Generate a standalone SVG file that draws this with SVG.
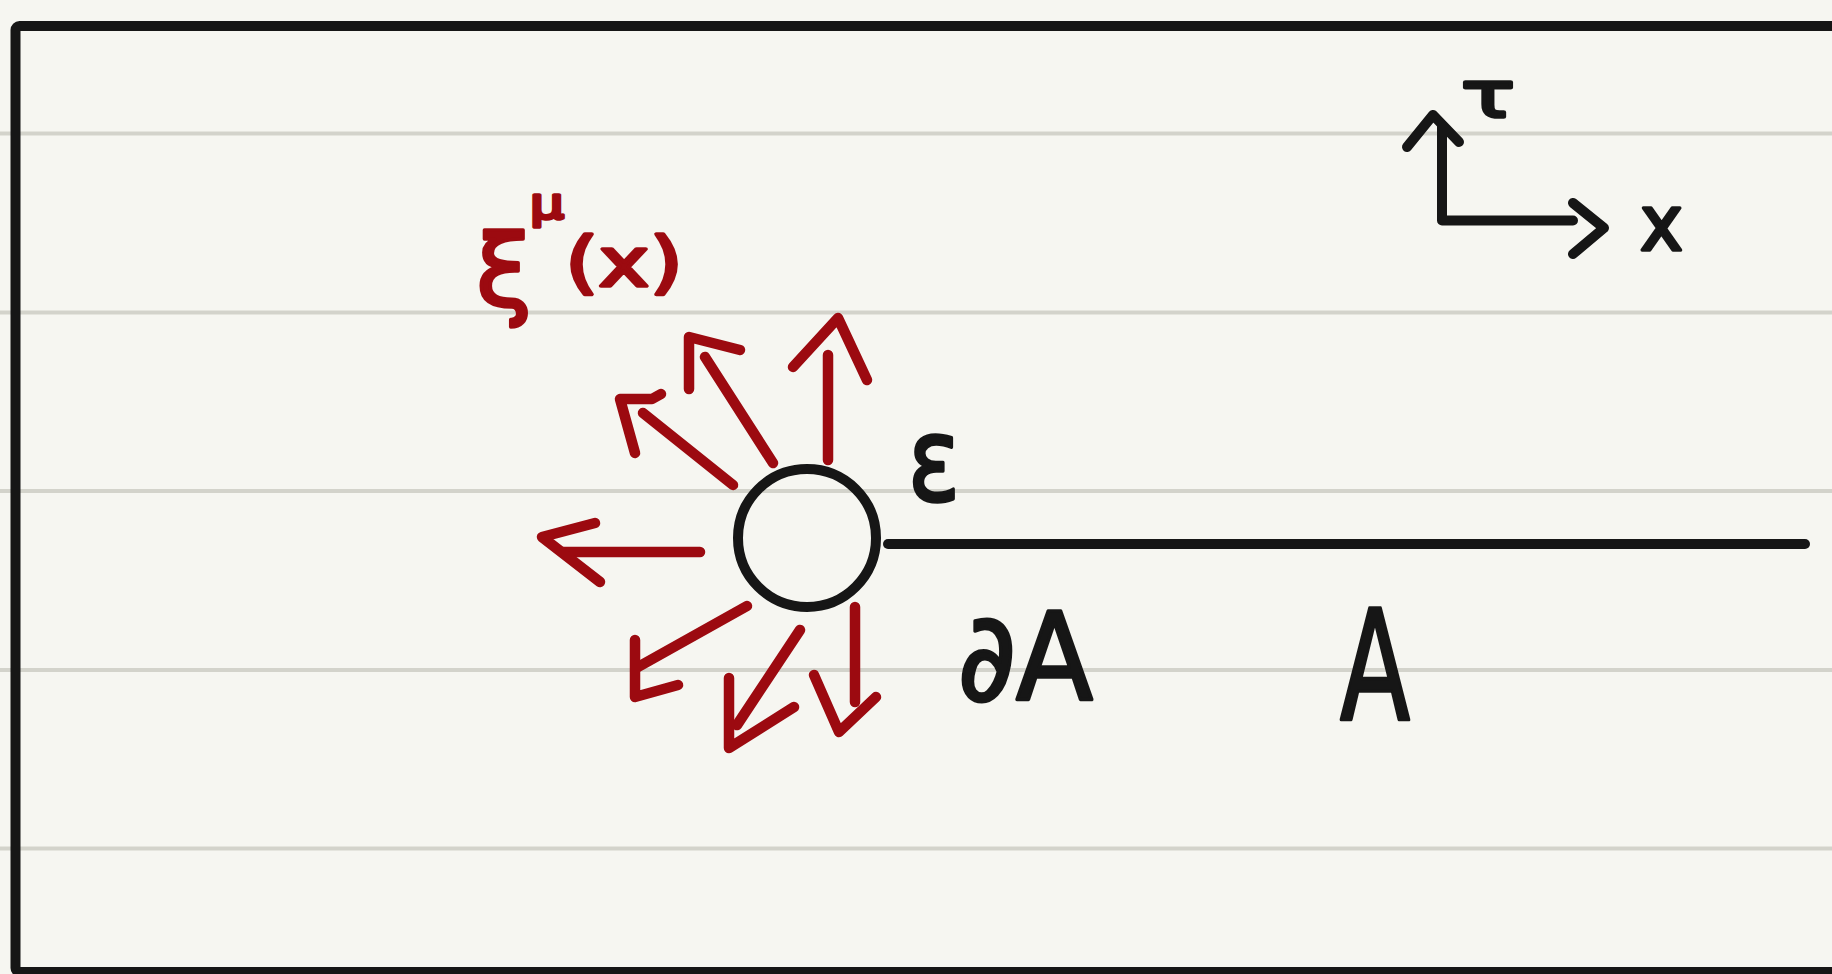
<svg xmlns="http://www.w3.org/2000/svg" width="1832" height="974" viewBox="0 0 1832 974">
<style>
.rule{stroke:#d3d3cb;stroke-width:4;fill:none}
.ink{stroke:#161616;stroke-width:10;fill:none;stroke-linecap:round;stroke-linejoin:round}
.red{stroke:#9c0a10;stroke-width:10.5;fill:none;stroke-linecap:round;stroke-linejoin:round}
.lbl{font-family:"DejaVu Sans","Liberation Sans",sans-serif;fill:#161616;stroke:#161616;stroke-width:3.5;stroke-linejoin:round}
.lblr{font-family:"DejaVu Sans","Liberation Sans",sans-serif;fill:#9c0a10;stroke:#9c0a10;stroke-width:3.5;stroke-linejoin:round}
</style>
<rect x="0" y="0" width="1832" height="974" fill="#f6f6f1"/>
<g id="ruling">
<line class="rule" x1="0" y1="133.5" x2="1832" y2="133.5"/>
<line class="rule" x1="0" y1="312.5" x2="1832" y2="312.5"/>
<line class="rule" x1="0" y1="491" x2="1832" y2="491"/>
<line class="rule" x1="0" y1="670" x2="1832" y2="670"/>
<line class="rule" x1="0" y1="848.5" x2="1832" y2="848.5"/>
</g>
<g id="frame">
<rect x="15.5" y="26" width="1840" height="946" rx="4" class="ink" stroke-width="9"/>
</g>
<g id="hole">
<circle cx="807" cy="538" r="69" class="ink"/>
</g>
<g id="cut-A">
<line class="ink" x1="888" y1="544" x2="1805" y2="544"/>
</g>
<g id="axes">
<polyline class="ink" points="1442,125 1442,220.5 1573,220.5"/>
<polyline class="ink" points="1407,147 1433,115 1459,142"/>
<polyline class="ink" points="1573,203 1604,228 1573,254"/>
<text class="lbl" x="1461" y="117" font-size="64" textLength="54" lengthAdjust="spacingAndGlyphs">τ</text>
<text class="lbl" x="1640" y="250" font-size="77" textLength="43" lengthAdjust="spacingAndGlyphs">x</text>
</g>
<g id="label-xi">
<text class="lblr" x="476" y="306" font-size="100" textLength="56" lengthAdjust="spacingAndGlyphs">ξ</text>
<text class="lblr" x="530" y="218" font-size="42" textLength="34" lengthAdjust="spacingAndGlyphs">μ</text>
<text class="lblr" x="565" y="286" font-size="68" textLength="118" lengthAdjust="spacingAndGlyphs">(x)</text>
</g>
<g id="label-eps">
<text class="lbl" x="908" y="500" font-size="115" textLength="52" lengthAdjust="spacingAndGlyphs">ε</text>
</g>
<g id="label-dA">
<text class="lbl" x="958" y="700" font-size="122" textLength="135" lengthAdjust="spacingAndGlyphs">∂A</text>
</g>
<g id="label-A">
<text class="lbl" x="1340" y="720" font-size="153" textLength="70" lengthAdjust="spacingAndGlyphs">A</text>
</g>
<g id="connectors">
<line class="red" x1="828" y1="460" x2="828" y2="355"/>
<polyline class="red" points="793,367 838,318 867,380"/>
<line class="red" x1="773" y1="463" x2="705" y2="357"/>
<polyline class="red" points="689,389 689,337 740,350"/>
<line class="red" x1="733" y1="485" x2="643" y2="413"/>
<polyline class="red" points="635,453 620,399 652,399 661,394"/>
<line class="red" x1="700" y1="552" x2="563" y2="552"/>
<polyline class="red" points="595,523 542,537 600,582"/>
<line class="red" x1="747" y1="606" x2="638" y2="667"/>
<polyline class="red" points="635,640 635,697 678,685"/>
<line class="red" x1="800" y1="630" x2="737" y2="725"/>
<polyline class="red" points="729,678 729,748 794,707"/>
<line class="red" x1="855" y1="607" x2="855" y2="702"/>
<polyline class="red" points="814,675 839,732 876,697"/>
</g>
</svg>
